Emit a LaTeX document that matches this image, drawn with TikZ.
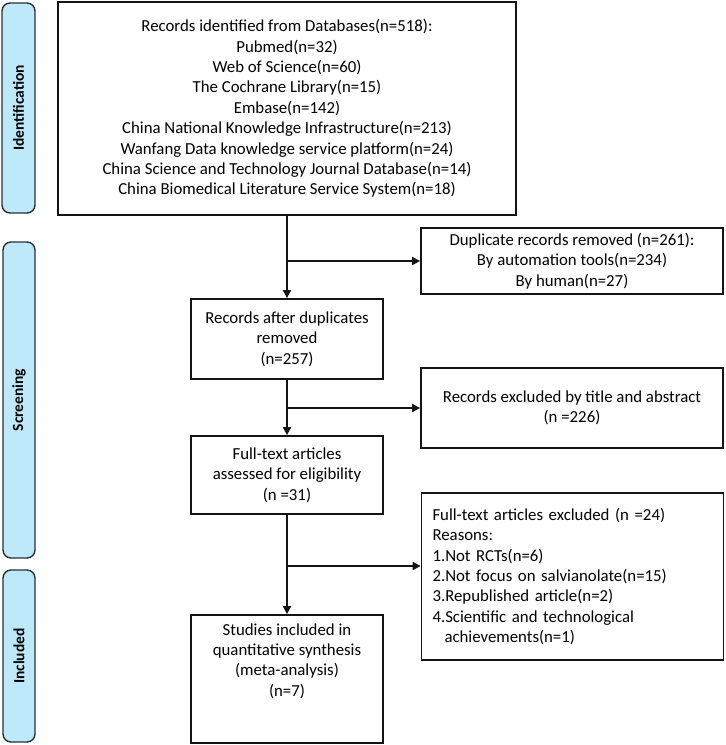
\documentclass[tikz,border=0pt]{standalone}
\usepackage{fontspec}
\setmainfont{Carlito}
\usetikzlibrary{arrows.meta}
\definecolor{sidefill}{RGB}{190,233,250}
\definecolor{sidedraw}{RGB}{40,48,52}
\definecolor{lineblk}{RGB}{20,20,20}
\begin{document}
\begin{tikzpicture}[x=1pt,y=-1pt,
  every node/.style={font=\fontsize{16.8}{20.4}\selectfont},
  side/.style={draw=sidedraw,fill=sidefill,line width=1.4pt,rounded corners=8pt,inner sep=0pt},
  sidetext/.style={font=\fontsize{15.5}{20}\selectfont\bfseries,rotate=90},
  box/.style={draw=lineblk,line width=1.8pt,inner sep=0pt,align=center},
  flow/.style={draw=lineblk,line width=1.8pt},
  arr/.style={flow,-{Triangle[length=8pt,width=8pt]}}
]
\useasboundingbox (0,0) rectangle (726,745);
% side labels
\node[side,minimum width=33pt,minimum height=210pt] (sid) at (18.5,108) {};
\node[sidetext] (sidt) at (sid.center) {Identification};
\node[side,minimum width=32pt,minimum height=316pt] (sscr) at (19,400) {};
\node[sidetext] (sscrt) at (sscr.center) {Screening};
\node[side,minimum width=32pt,minimum height=172pt] (sinc) at (19,656) {};
\node[sidetext] (sinct) at (sinc.center) {Included};
% boxes
\node[box,minimum width=458pt,minimum height=213pt] (top) at (287,108.5) {Records identified from Databases(n=518):\\Pubmed(n=32)\\Web of Science(n=60)\\The Cochrane Library(n=15)\\Embase(n=142)\\China National Knowledge Infrastructure(n=213)\\Wanfang Data knowledge service platform(n=24)\\China Science and Technology Journal Database(n=14)\\China Biomedical Literature Service System(n=18)};
\node[box,minimum width=302pt,minimum height=66pt] (dup) at (572,261) {Duplicate records removed (n=261):\\By automation tools(n=234)\\By human(n=27)};
\node[box,minimum width=192pt,minimum height=80pt] (rec) at (287,339) {Records after duplicates\\removed\\(n=257)};
\node[box,minimum width=302pt,minimum height=80pt] (excl) at (572,408) {Records excluded by title and abstract\\(n =226)};
\node[box,minimum width=192pt,minimum height=78pt] (ft) at (287,475) {Full-text articles\\assessed for eligibility\\(n =31)};
\node[box,minimum width=302pt,minimum height=167pt,align=left,text width=280pt] (ftex) at (572.5,576.5) {Full-text articles excluded (n =24)\\Reasons:\\1.Not RCTs(n=6)\\2.Not focus on salvianolate(n=15)\\3.Republished article(n=2)\\4.Scientific and technological\\\hspace*{12pt}achievements(n=1)};
\node[box,minimum width=192pt,minimum height=128pt] (stud) at (287,679) {};
\node[align=center,inner sep=0pt] (studt) at (287,661) {Studies included in\\quantitative synthesis\\(meta-analysis)\\(n=7)};
% connectors
\coordinate (b1) at (top.south |- dup.west);
\coordinate (b2) at (rec.south |- excl.west);
\coordinate (b3) at (ft.south |- 0,566);
\coordinate (e3) at (ftex.west |- 0,566);
\draw[arr] (top.south) -- (rec.north);
\draw[arr] (b1) -- (dup.west);
\draw[arr] (rec.south) -- (ft.north);
\draw[arr] (b2) -- (excl.west);
\draw[arr] (ft.south) -- (stud.north);
\draw[arr] (b3) -- (e3);
\end{tikzpicture}
\end{document}
